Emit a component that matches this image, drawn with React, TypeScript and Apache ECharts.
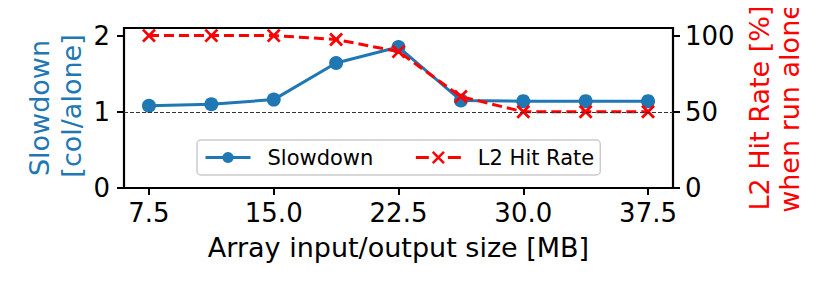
import React, { useEffect, useRef } from "react";
import * as echarts from "echarts";

const sizes = [7.5, 11.25, 15, 18.75, 22.5, 26.25, 30, 33.75, 37.5];
const slowdown = [1.08, 1.1, 1.16, 1.64, 1.85, 1.15, 1.14, 1.14, 1.14];
const l2HitRate = [100, 100, 100, 97.5, 89.5, 60, 50, 50, 50];
const xTicks = [7.5, 15, 22.5, 30, 37.5];
const leftTicks = [0, 1, 2];
const rightTicks = [0, 50, 100];

const FONT = "DejaVu Sans";
const BLUE = "#1f77b4";
const RED = "#ff0000";

export default function App() {
  const ref = useRef<HTMLDivElement>(null);
  useEffect(() => {
    if (!ref.current) return;
    const chart = echarts.init(ref.current, null, { renderer: "svg" });
    const tickLabel = { fontFamily: FONT, fontSize: 26, color: "#000" };
    const tick = {
      show: true,
      length: 7,
      lineStyle: { color: "#000", width: 2 },
    };
    chart.setOption({
      animation: false,
      backgroundColor: "#fff",
      grid: {
        left: 124,
        right: 157,
        top: 28,
        bottom: 103,
        show: true,
        borderColor: "#000",
        borderWidth: 2.2,
        backgroundColor: "transparent",
      },
      xAxis: {
        type: "value",
        min: 6,
        max: 39,
        splitLine: { show: false },
        axisLine: { show: false },
        axisTick: { ...tick, customValues: xTicks },
        axisLabel: {
          ...tickLabel,
          margin: 12,
          customValues: xTicks,
          formatter: (v: number) => v.toFixed(1),
        },
      },
      yAxis: [
        {
          type: "value",
          min: 0,
          max: 2.1,
          splitLine: { show: false },
          axisLine: { show: false },
          axisTick: { ...tick, customValues: leftTicks },
          axisLabel: { ...tickLabel, margin: 14, customValues: leftTicks },
        },
        {
          type: "value",
          position: "right",
          min: 0,
          max: 105,
          splitLine: { show: false },
          axisLine: { show: false },
          axisTick: { ...tick, customValues: rightTicks },
          axisLabel: { ...tickLabel, margin: 12, customValues: rightTicks },
        },
      ],
      legend: {
        left: 197,
        top: 140,
        orient: "horizontal",
        padding: [7, 6, 7, 7],
        itemWidth: 45,
        itemHeight: 14,
        itemGap: 41,
        borderColor: "#cccccc",
        borderWidth: 1.5,
        borderRadius: 4,
        backgroundColor: "rgba(255,255,255,0.8)",
        textStyle: {
          fontFamily: FONT,
          fontSize: 21,
          color: "#000",
          padding: [0, 0, 0, 12],
        },
        data: [
          {
            name: "Slowdown",
            lineStyle: { color: BLUE, width: 3, type: "solid" },
            itemStyle: { color: BLUE },
          },
          {
            name: "L2 Hit Rate",
            lineStyle: { color: RED, width: 3, type: [13, 19] },
            itemStyle: { color: RED, borderColor: RED, borderWidth: 2.5 },
          },
        ],
      },
      graphic: [
        {
          type: "text",
          x: 39,
          y: 108,
          rotation: Math.PI / 2,
          style: {
            text: "Slowdown",
            font: `27px '${FONT}'`,
            fill: BLUE,
            textAlign: "center",
            textVerticalAlign: "middle",
          },
        },
        {
          type: "text",
          x: 71,
          y: 106,
          rotation: Math.PI / 2,
          style: {
            text: "[col/alone]",
            font: `27px '${FONT}'`,
            fill: BLUE,
            textAlign: "center",
            textVerticalAlign: "middle",
          },
        },
        {
          type: "text",
          x: 759,
          y: 108,
          rotation: Math.PI / 2,
          style: {
            text: "L2 Hit Rate [%]",
            font: `27px '${FONT}'`,
            fill: RED,
            textAlign: "center",
            textVerticalAlign: "middle",
          },
        },
        {
          type: "text",
          x: 789,
          y: 108,
          rotation: Math.PI / 2,
          style: {
            text: "when run alone",
            font: `27px '${FONT}'`,
            fill: RED,
            textAlign: "center",
            textVerticalAlign: "middle",
          },
        },
        {
          type: "text",
          x: 398.5,
          y: 247,
          style: {
            text: "Array input/output size [MB]",
            font: `27px '${FONT}'`,
            fill: "#000",
            textAlign: "center",
            textVerticalAlign: "middle",
          },
        },
      ],
      series: [
        {
          name: "Slowdown",
          type: "line",
          yAxisIndex: 0,
          data: sizes.map((x, i) => [x, slowdown[i]]),
          symbol: "circle",
          symbolSize: 14,
          lineStyle: { color: BLUE, width: 3 },
          itemStyle: { color: BLUE },
          z: 2,
          markLine: {
            silent: true,
            symbol: ["none", "none"],
            label: { show: false },
            lineStyle: { color: "#333", width: 1, type: [4, 2] },
            data: [{ yAxis: 1 }],
          },
        },
        {
          name: "L2 Hit Rate",
          type: "line",
          yAxisIndex: 1,
          data: sizes.map((x, i) => [x, l2HitRate[i]]),
          symbol: "path://M0,0L10,10M10,0L0,10",
          symbolSize: 12,
          lineStyle: { color: RED, width: 3, type: [10, 5] },
          itemStyle: { color: RED, borderColor: RED, borderWidth: 2.8 },
          z: 3,
        },
      ],
    });
    return () => chart.dispose();
  }, []);
  return <div ref={ref} style={{ width: 830, height: 291, margin: -8 }} />;
}
